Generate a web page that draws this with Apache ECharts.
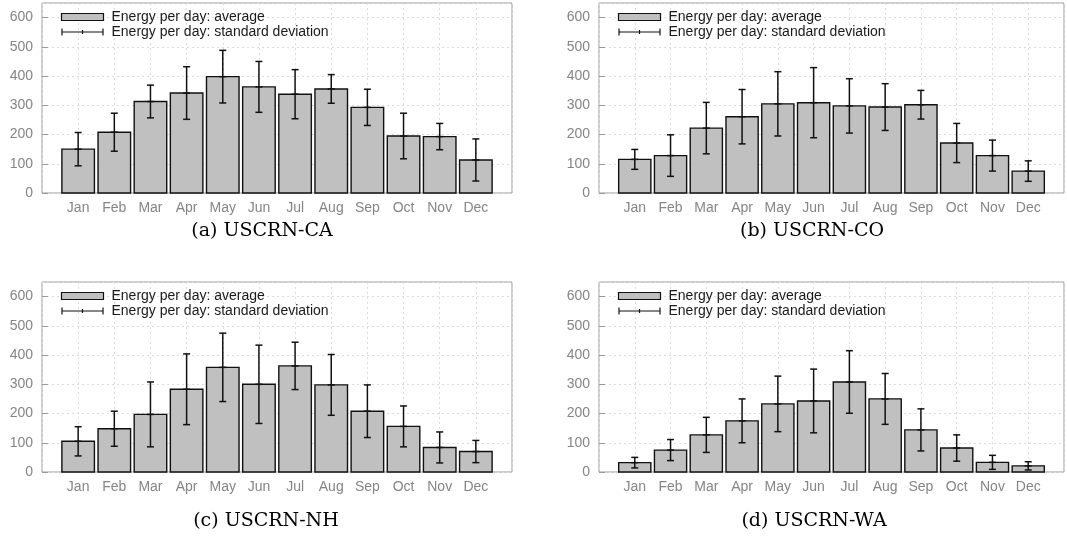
<!DOCTYPE html>
<html>
<head>
<meta charset="utf-8">
<script src="https://cdn.jsdelivr.net/npm/echarts@6/dist/echarts.min.js"></script>
<style>
  html, body { margin: 0; padding: 0; background: #fff; }
  #chart { width: 1067px; height: 536px; }
</style>
</head>
<body>
<div id="chart"></div>
<script>
// Monthly energy per day at four USCRN stations: mean and standard deviation
const months = ['Jan', 'Feb', 'Mar', 'Apr', 'May', 'Jun', 'Jul', 'Aug', 'Sep', 'Oct', 'Nov', 'Dec'];

const caAvg = [150, 208, 313, 342, 398, 363, 338, 356, 293, 195, 193, 113];
const caSd  = [57, 65, 56, 90, 90, 87, 84, 49, 62, 78, 45, 72];

const coAvg = [115, 128, 222, 261, 305, 309, 298, 294, 302, 171, 128, 75];
const coSd  = [34, 71, 88, 93, 110, 120, 93, 80, 49, 67, 53, 35];

const nhAvg = [105, 148, 197, 283, 358, 300, 363, 298, 208, 156, 84, 70];
const nhSd  = [50, 60, 111, 121, 117, 134, 81, 104, 90, 70, 53, 38];

const waAvg = [32, 75, 127, 175, 233, 243, 308, 250, 144, 82, 33, 21];
const waSd  = [18, 36, 60, 75, 95, 109, 107, 87, 72, 45, 24, 14];

const captions = ['(a) USCRN-CA', '(b) USCRN-CO', '(c) USCRN-NH', '(d) USCRN-WA'];
const avgName = 'Energy per day: average';
const sdName = 'Energy per day: standard deviation';

const panels = [
  { avg: caAvg, sd: caSd, left: 42,  width: 470, top: 3,   capX: 262, capY: 231 },
  { avg: coAvg, sd: coSd, left: 599, width: 475, top: 3,   capX: 812, capY: 231 },
  { avg: nhAvg, sd: nhSd, left: 42,  width: 470, top: 282, capX: 266, capY: 521 },
  { avg: waAvg, sd: waSd, left: 599, width: 475, top: 282, capX: 814, capY: 521 }
];

const SANS = '"Liberation Sans", Arial, Helvetica, sans-serif';
const axisGray = '#9a9a9a';
const labelGray = '#858585';
const gridDot = '#dcdcdc';

function renderBar(params, api) {
  const x = api.value(0);
  const v = api.value(1);
  const top = api.coord([x, v]);
  const base = api.coord([x, 0]);
  const w = api.size([1, 0])[0] * 0.9;
  return {
    type: 'rect',
    shape: { x: top[0] - w / 2, y: top[1], width: w, height: base[1] - top[1] },
    style: { fill: '#c0c0c0', stroke: '#111', lineWidth: 1.4 }
  };
}

function renderErr(params, api) {
  const x = api.value(0);
  const m = api.value(1);
  const s = api.value(2);
  const hi = api.coord([x, m + s]);
  const lo = api.coord([x, m - s]);
  const mid = api.coord([x, m]);
  const c = 3.5;
  const st = { stroke: '#111', lineWidth: 1.5 };
  return {
    type: 'group',
    children: [
      { type: 'line', shape: { x1: hi[0], y1: hi[1], x2: lo[0], y2: lo[1] }, style: st },
      { type: 'line', shape: { x1: hi[0] - c, y1: hi[1], x2: hi[0] + c, y2: hi[1] }, style: st },
      { type: 'line', shape: { x1: lo[0] - c, y1: lo[1], x2: lo[0] + c, y2: lo[1] }, style: st },
      { type: 'line', shape: { x1: mid[0] - c, y1: mid[1], x2: mid[0] + c, y2: mid[1] }, style: st }
    ]
  };
}

const grid = [], xAxis = [], yAxis = [], series = [], legend = [], graphic = [];

panels.forEach((p, i) => {
  grid.push({
    left: p.left, top: p.top, width: p.width, height: 190,
    show: true, borderColor: axisGray, borderWidth: 1, backgroundColor: 'transparent'
  });
  xAxis.push({
    type: 'value', gridIndex: i, min: -1, max: 12, interval: 1,
    axisLine: { show: false, onZero: false },
    axisTick: { show: false },
    axisLabel: {
      margin: 8, color: labelGray, fontFamily: SANS, fontSize: 14,
      formatter: v => (v >= 0 && v < months.length ? months[v] : '')
    },
    splitLine: { show: true, lineStyle: { color: gridDot, type: [2, 3], width: 1 } }
  });
  yAxis.push({
    type: 'value', gridIndex: i, min: 0, max: 650, interval: 100,
    axisLine: { show: false, onZero: false },
    axisTick: { show: true, inside: true, length: 6, lineStyle: { color: axisGray } },
    axisLabel: {
      margin: 9, color: labelGray, fontFamily: SANS, fontSize: 14, showMaxLabel: false
    },
    splitLine: { show: true, lineStyle: { color: gridDot, type: [2, 3], width: 1 } }
  });
  series.push({
    name: avgName, type: 'custom', xAxisIndex: i, yAxisIndex: i,
    renderItem: renderBar,
    itemStyle: { color: '#c0c0c0', borderColor: '#111', borderWidth: 1.4 },
    encode: { x: 0, y: 1 },
    data: p.avg.map((v, k) => [k, v]),
    z: 2
  });
  series.push({
    name: sdName, type: 'custom', xAxisIndex: i, yAxisIndex: i,
    renderItem: renderErr,
    itemStyle: { color: '#111' },
    encode: { x: 0, y: [1, 2] },
    data: p.avg.map((v, k) => [k, v, p.sd[k]]),
    z: 3
  });
  legend.push({
    orient: 'vertical', left: p.left + 17, top: p.top + 6.5,
    padding: 0, itemGap: 0, itemWidth: 42, itemHeight: 7,
    selectedMode: false,
    textStyle: { fontFamily: SANS, fontSize: 14, color: '#1a1a1a', lineHeight: 15, padding: [0, 0, 0, 3] },
    data: [
      { name: avgName, icon: 'rect', itemStyle: { color: '#c0c0c0', borderColor: '#111', borderWidth: 1.2 } },
      { name: sdName, icon: 'path://M0,3.5L42,3.5M0.5,0L0.5,7M41.5,0L41.5,7M21,1.5L21,5.5',
        itemStyle: { color: 'none', borderColor: '#111', borderWidth: 1.2 } }
    ]
  });
  graphic.push({
    type: 'text', x: p.capX, y: p.capY,
    style: {
      text: captions[i], fill: '#000', font: '19px "DejaVu Serif", "Liberation Serif", serif',
      textAlign: 'center', textVerticalAlign: 'middle'
    }
  });
});

const chart = echarts.init(document.getElementById('chart'), null, { renderer: 'canvas' });
chart.setOption({
  animation: false,
  backgroundColor: '#fff',
  grid, xAxis, yAxis, series, legend, graphic
});
</script>
</body>
</html>
